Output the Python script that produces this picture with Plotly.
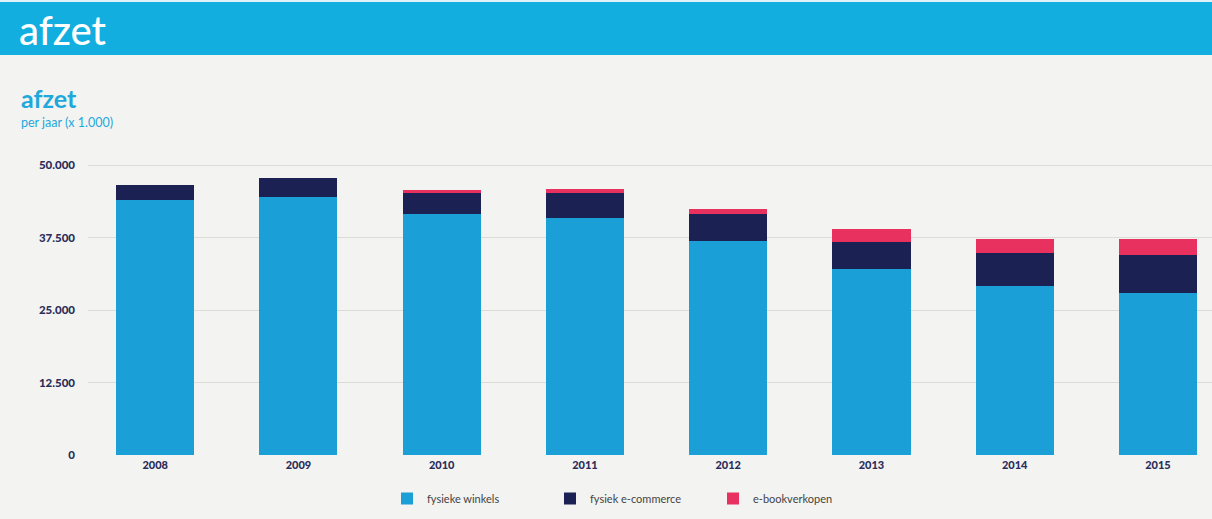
import plotly.graph_objects as go

years = ["2008", "2009", "2010", "2011", "2012", "2013", "2014", "2015"]
fysieke_winkels = [44000, 44500, 41600, 40800, 36900, 32000, 29100, 28000]
fysiek_ecommerce = [2550, 3300, 3600, 4300, 4600, 4800, 5700, 6400]
ebookverkopen = [0, 0, 500, 700, 1000, 2100, 2400, 2800]
y_tickvals = [0, 12500, 25000, 37500, 50000]
y_ticktext = ["0", "12.500", "25.000", "37.500", "50.000"]

series = [
    ("fysieke winkels", fysieke_winkels, "#1a9fd6"),
    ("fysiek e-commerce", fysiek_ecommerce, "#1b2152"),
    ("e-bookverkopen", ebookverkopen, "#e8315f"),
]

fig = go.Figure()
for name, vals, col in series:
    fig.add_trace(go.Bar(x=years, y=vals, name=name, marker=dict(color=col, line=dict(width=0)),
                         width=0.545))

bg = "#f3f3f1"
L, T, B = 88, 153, 64
PW, PH = 1212 - L, 519 - T - B


def px_x(px):
    return (px - L) / PW


def px_y(py):
    return (519 - B - py) / PH


fig.update_layout(
    width=1212, height=519,
    barmode="stack",
    paper_bgcolor=bg, plot_bgcolor=bg,
    margin=dict(l=L, r=0, t=T, b=B),
    font=dict(family="Lato", color="#2a2d5a"),
    showlegend=True,
    legend=dict(orientation="h", x=px_x(387), xanchor="left", y=px_y(484), yanchor="top",
                font=dict(size=11, color="#444444", family="Lato"),
                entrywidth=118, entrywidthmode="pixels",
                itemwidth=30, traceorder="normal", bgcolor="rgba(0,0,0,0)"),
    xaxis=dict(range=[-0.469, 7.377], showgrid=False, zeroline=False, showline=False,
               tickfont=dict(size=11, color="#2a2d5a", family="Lato Black, Lato"),
               ticks="", ticklabelstandoff=2),
    yaxis=dict(range=[0, 52069], tickvals=y_tickvals, ticktext=y_ticktext,
               showgrid=True, gridcolor="#dcdcd6", gridwidth=1, zeroline=False,
               showline=False, ticks="", ticklabelstandoff=12,
               tickfont=dict(size=11.5, color="#2a2d5a", family="Lato Black, Lato")),
    shapes=[
        dict(type="rect", xref="paper", yref="paper", x0=px_x(-5), x1=px_x(1220),
             y0=px_y(55), y1=px_y(2), fillcolor="#12aee0", line=dict(width=0), layer="below"),
        dict(type="rect", xref="paper", yref="paper", x0=px_x(-5), x1=px_x(1220),
             y0=px_y(2), y1=px_y(-5), fillcolor="#dff2f8", line=dict(width=0), layer="below"),
    ],
    annotations=[
        dict(text="afzet", xref="paper", yref="paper", x=px_x(17), y=px_y(30),
             xanchor="left", yanchor="middle", showarrow=False,
             font=dict(size=40, color="white", family="Lato", weight=500)),
        dict(text="<b>afzet</b>", xref="paper", yref="paper", x=px_x(19), y=px_y(98),
             xanchor="left", yanchor="middle", showarrow=False,
             font=dict(size=25, color="#1ea8db", family="Lato")),
        dict(text="per jaar (x 1.000)", xref="paper", yref="paper", x=px_x(19), y=px_y(122),
             xanchor="left", yanchor="middle", showarrow=False,
             font=dict(size=12.5, color="#1ea8db", family="Lato")),
    ],
)

fig.write_html("out.html")
